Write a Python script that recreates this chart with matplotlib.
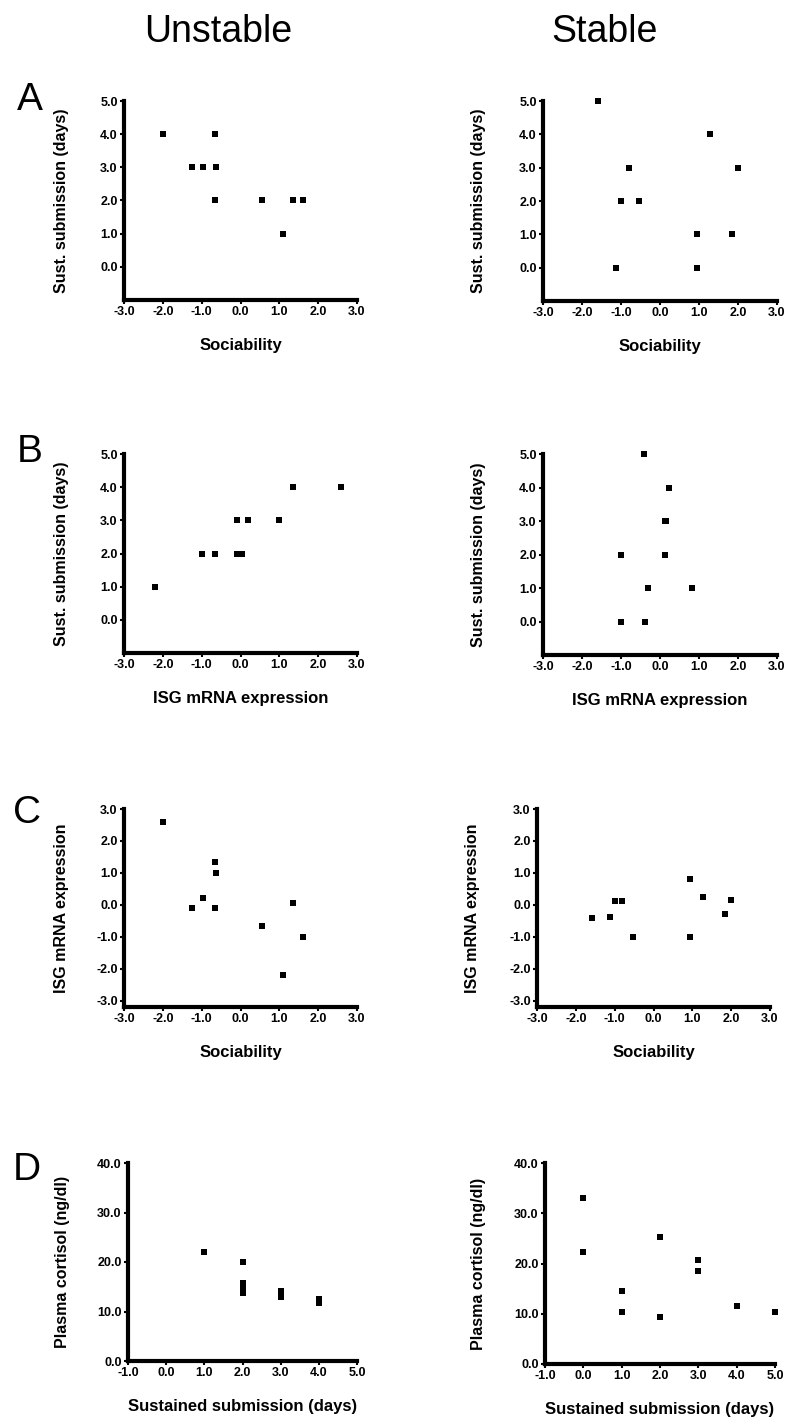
import matplotlib
matplotlib.use("Agg")
import matplotlib.pyplot as plt
from matplotlib.ticker import FormatStrFormatter

plt.rcParams['font.family'] = ['Liberation Sans', 'DejaVu Sans']
plt.rcParams['font.weight'] = 'bold'
plt.rcParams['axes.unicode_minus'] = False

# unstable animals (same animal order in each array)
soc_unstable = [-2.0, -0.65, -1.25, -0.97, -0.62, -0.65, 0.55, 1.35, 1.6, 1.1]
sub_unstable = [4, 4, 3, 3, 3, 2, 2, 2, 2, 1]
isg_unstable = [2.58, 1.34, -0.1, 0.2, 1.0, -0.1, -0.65, 0.05, -1.0, -2.2]
cort_unstable = [12.5, 11.8, 14.2, 13.6, 13.0, 20.0, 15.8, 14.5, 13.8, 22.0]

# stable animals
soc_stable = [-1.58, 1.28, -0.8, 2.0, -1.0, -0.54, 0.94, 1.85, -1.13, 0.94]
sub_stable = [5, 4, 3, 3, 2, 2, 1, 1, 0, 0]
isg_stable = [-0.4, 0.24, 0.12, 0.16, 0.12, -1.0, 0.81, -0.3, -0.38, -1.0]
cort_stable = [10.4, 11.6, 20.7, 18.5, 25.2, 9.3, 14.6, 10.4, 33.1, 22.2]

soc_ticks = [-3, -2, -1, 0, 1, 2, 3]
sub_ticks = [0, 1, 2, 3, 4, 5]
isg_ticks = [-3, -2, -1, 0, 1, 2, 3]
cort_ticks = [0, 10, 20, 30, 40]
day_ticks = [-1, 0, 1, 2, 3, 4, 5]

W, H = 800, 1424
fig = plt.figure(figsize=(W / 100, H / 100), dpi=100)


def panel(box, x, y, xlim, ylim, xticks, yticks, xlabel, ylabel, ylab_x=-0.235):
    l, t, r, b = box
    ax = fig.add_axes([l / W, 1 - b / H, (r - l) / W, (b - t) / H])
    ax.scatter(x, y, marker='s', s=22, color='black', linewidths=0, clip_on=False, zorder=3)
    ax.set_xlim(xlim)
    ax.set_ylim(ylim)
    ax.set_xticks(xticks)
    ax.set_yticks(yticks)
    ax.xaxis.set_major_formatter(FormatStrFormatter('%.1f'))
    ax.yaxis.set_major_formatter(FormatStrFormatter('%.1f'))
    for s in ['top', 'right']:
        ax.spines[s].set_visible(False)
    for s in ['left', 'bottom']:
        ax.spines[s].set_linewidth(3)
    ax.tick_params(direction='out', length=3, width=1.5, pad=1.5, labelsize=9)
    ax.set_xlabel(xlabel, fontsize=12, fontweight='bold')
    ax.set_ylabel(ylabel, fontsize=11.5, fontweight='bold')
    ax.xaxis.set_label_coords(0.5, -38 / (b - t))
    ax.yaxis.set_label_coords(ylab_x, 0.5)
    return ax


# row A
panel((124, 101, 357, 300), soc_unstable, sub_unstable, (-3, 3), (-1, 5),
      soc_ticks, sub_ticks, 'Sociability', 'Sust. submission (days)')
panel((543, 101, 777, 301), soc_stable, sub_stable, (-3, 3), (-1, 5),
      soc_ticks, sub_ticks, 'Sociability', 'Sust. submission (days)', -0.245)

# row B
panel((124, 454, 357, 653), isg_unstable, sub_unstable, (-3, 3), (-1, 5),
      isg_ticks, sub_ticks, 'ISG mRNA expression', 'Sust. submission (days)')
panel((543, 454, 777, 655), isg_stable, sub_stable, (-3, 3), (-1, 5),
      isg_ticks, sub_ticks, 'ISG mRNA expression', 'Sust. submission (days)', -0.245)

# row C
panel((124, 809, 357, 1007), soc_unstable, isg_unstable, (-3, 3), (-3.2, 3),
      soc_ticks, isg_ticks, 'Sociability', 'ISG mRNA expression')
panel((537, 809, 770, 1007), soc_stable, isg_stable, (-3, 3), (-3.2, 3),
      soc_ticks, isg_ticks, 'Sociability', 'ISG mRNA expression', -0.245)

# row D
panel((128, 1163, 357, 1361), sub_unstable, cort_unstable, (-1, 5), (0, 40),
      day_ticks, cort_ticks, 'Sustained submission (days)', 'Plasma cortisol (ng/dl)', -0.255)
panel((545, 1163, 775, 1364), sub_stable, cort_stable, (-1, 5), (0, 40),
      day_ticks, cort_ticks, 'Sustained submission (days)', 'Plasma cortisol (ng/dl)', -0.255)

fig.text(218 / W, 1 - 32 / H, 'Unstable', ha='center', va='center', fontsize=27, fontweight='normal')
fig.text(605 / W, 1 - 32 / H, 'Stable', ha='center', va='center', fontsize=27, fontweight='normal')

for letter, lx, ly in [('A', 30, 100), ('B', 30, 452), ('C', 27, 813), ('D', 27, 1170)]:
    fig.text(lx / W, 1 - ly / H, letter, ha='center', va='center', fontsize=28, fontweight='normal')

fig.savefig('out.png', dpi=100, facecolor='white')
